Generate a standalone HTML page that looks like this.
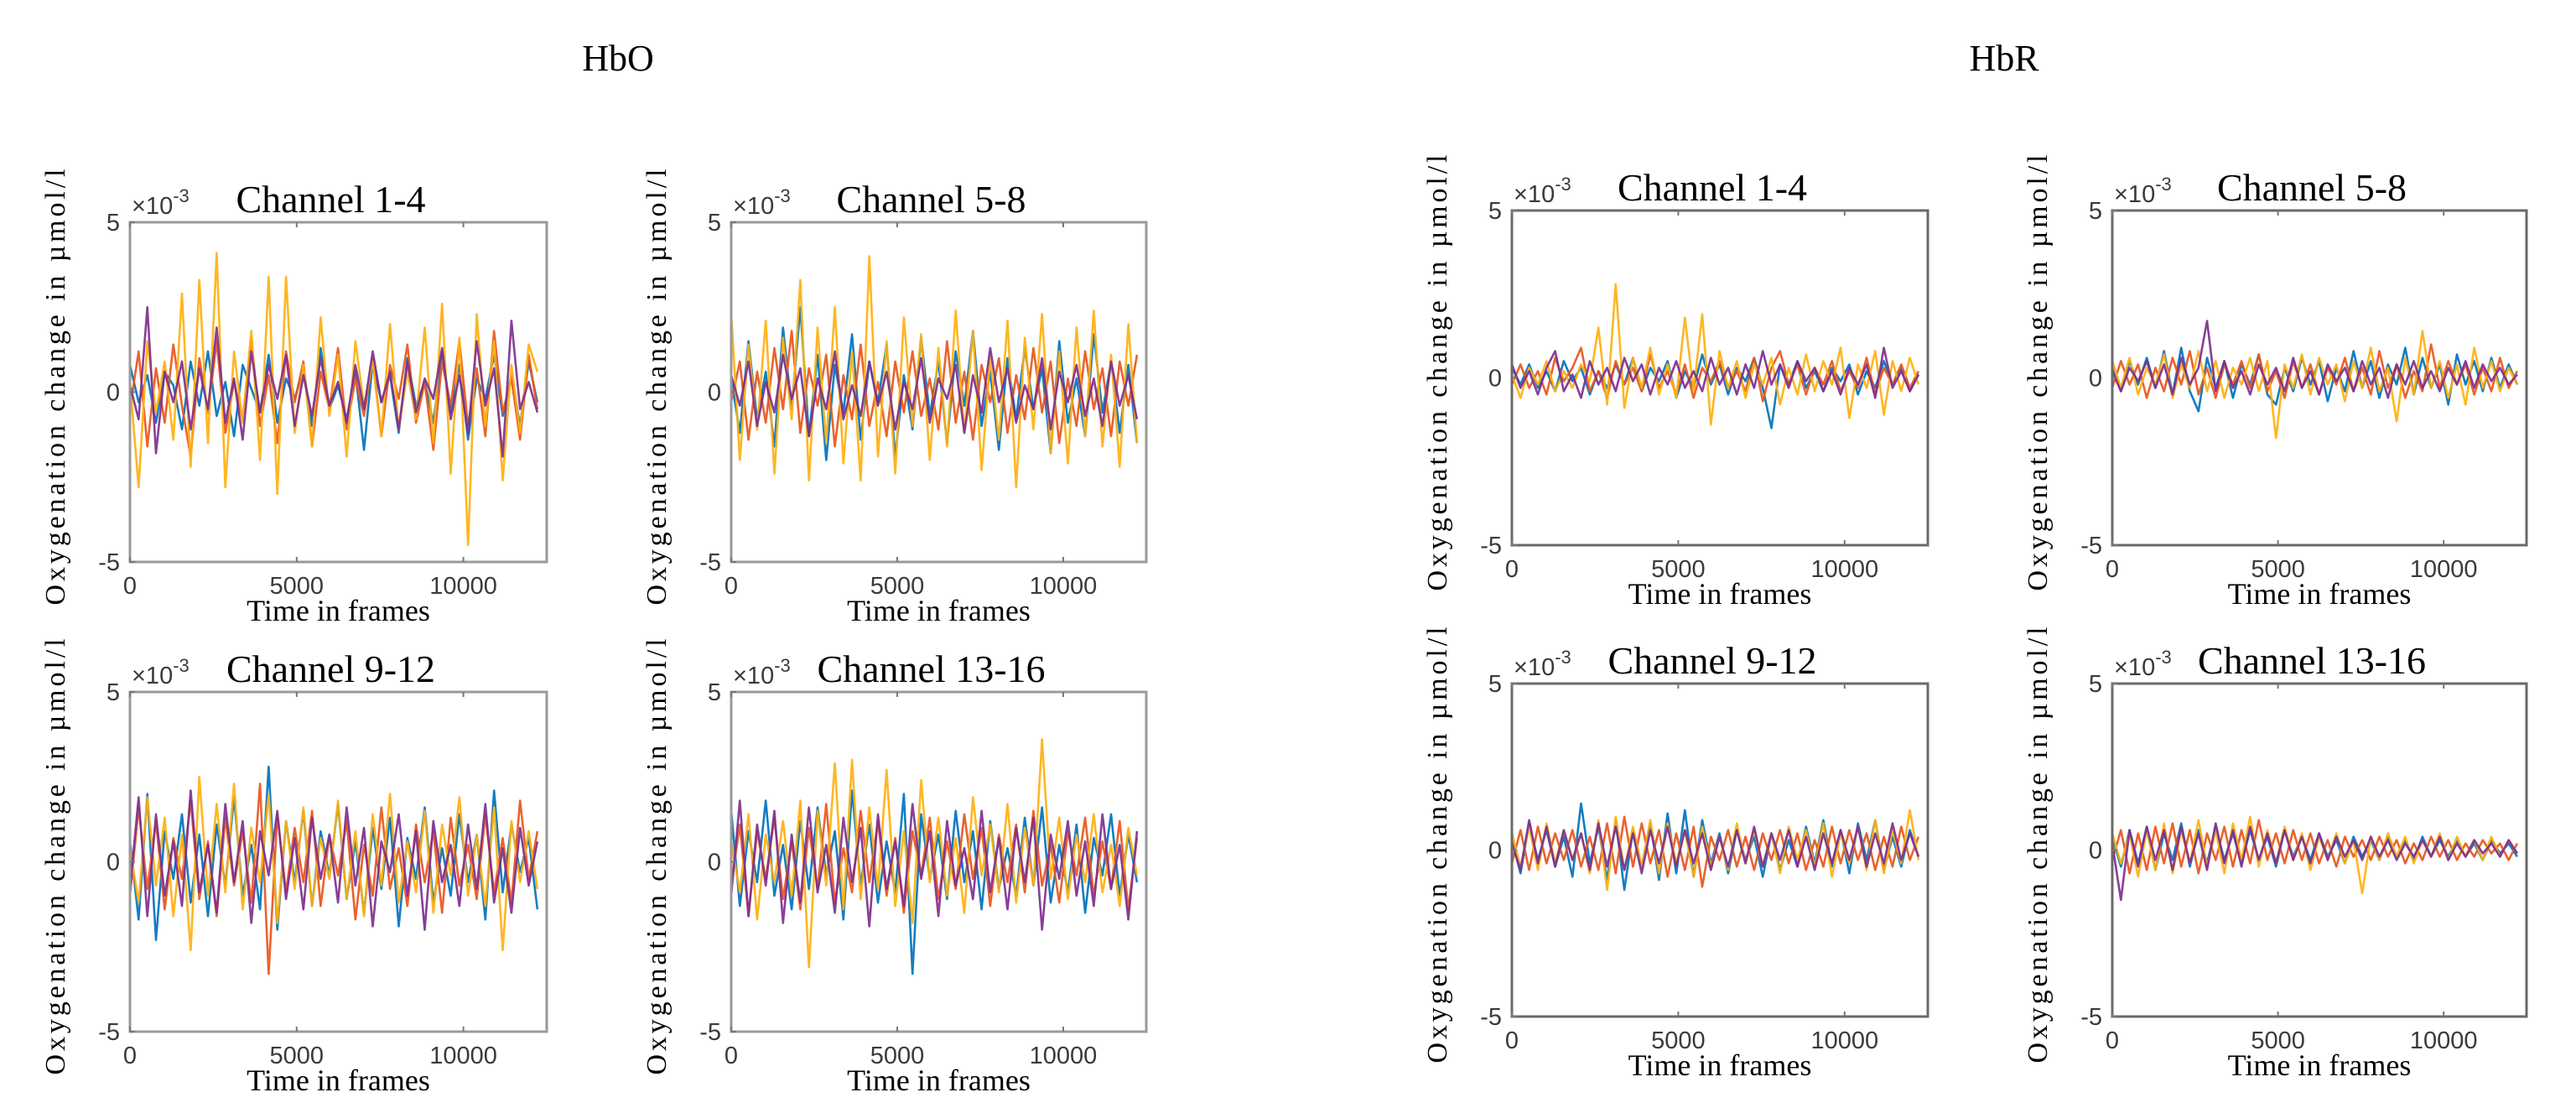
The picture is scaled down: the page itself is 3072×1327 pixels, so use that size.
<!DOCTYPE html>
<html><head><meta charset="utf-8">
<style>
html,body{margin:0;padding:0;background:#fff;}
svg{display:block;}
.serif{font-family:"Liberation Serif",serif;fill:#000;}
.sans{font-family:"Liberation Sans",sans-serif;fill:#3a3a3a;}
</style></head>
<body>
<svg id="fig" xmlns="http://www.w3.org/2000/svg" width="3072" height="1327" viewBox="0 0 3072 1327">
<rect x="0" y="0" width="3072" height="1327" fill="#fff"/>
<text class="serif" x="737" y="84" font-size="44" text-anchor="middle">HbO</text>
<text class="serif" x="2390" y="84" font-size="44" text-anchor="middle">HbR</text>
</svg>
<script>
// x categories (frames)
const frames = [0,260,520,780,1040,1300,1560,1820,2080,2340,2600,2860,3120,3380,3640,3900,4160,4420,4680,4940,5200,5460,5720,5980,6240,6500,6760,7020,7280,7540,7800,8060,8320,8580,8840,9100,9360,9620,9880,10140,10400,10660,10920,11180,11440,11700,11960,12220];
const xTicks = [0,5000,10000];
const yTicks = [5,0,-5];
const panelTitles = ["Channel 1-4","Channel 5-8","Channel 9-12","Channel 13-16","Channel 1-4","Channel 5-8","Channel 9-12","Channel 13-16"];

// HbO Channel 1-4 (values in 1e-3 µmol/l)
const hbo1Blue = [0.8,-0.3,0.5,-0.9,0.6,0.2,-1.1,0.9,-0.4,1.2,-0.7,0.3,-1.3,0.8,0.1,-0.6,1.1,-0.9,0.4,-0.2,0.7,-1.0,1.3,-0.5,0.2,-0.8,0.6,-1.7,0.9,-0.3,0.5,-1.2,1.0,-0.4,0.3,-0.9,1.2,-0.6,0.8,-1.4,0.4,-0.2,1.1,-0.7,0.5,-1.0,0.9,-0.3];
const hbo1Red = [-0.5,1.2,-1.6,0.7,-0.9,1.4,-0.4,-1.9,1.0,-0.6,1.5,-1.2,0.3,-0.8,1.6,-1.0,0.5,-1.5,1.2,-0.3,0.9,-1.6,0.6,-0.5,1.3,-1.1,0.4,-0.7,1.0,-1.3,0.8,-0.2,1.4,-0.9,0.3,-1.7,0.9,-0.4,1.5,-1.0,0.7,-1.3,1.8,-0.6,0.4,-1.4,1.1,-0.5];
const hbo1Yellow = [0.3,-2.8,1.5,-0.6,0.9,-1.4,2.9,-2.2,3.3,-1.5,4.1,-2.8,1.2,-0.9,1.8,-2.0,3.4,-3.0,3.4,-1.2,0.8,-1.6,2.2,-0.7,1.1,-1.9,1.5,-0.4,0.9,-1.3,2.0,-1.1,0.6,-0.8,1.9,-1.5,2.6,-2.4,1.6,-4.5,2.3,-1.0,1.5,-2.6,0.8,-1.2,1.4,0.6];
const hbo1Purple = [0.2,-0.8,2.5,-1.8,0.6,-0.3,0.9,-1.1,0.7,-0.5,1.9,-0.9,0.4,-1.4,1.2,-0.6,0.8,-0.2,1.1,-1.0,0.5,-0.7,1.0,-0.4,0.3,-0.9,0.8,-0.5,1.2,-0.3,0.6,-1.1,0.9,-0.6,0.4,-0.2,1.3,-0.8,0.5,-1.2,1.5,-0.4,0.7,-1.9,2.1,-0.5,0.3,-0.6];
// HbO Channel 5-8
const hbo2Blue = [0.4,-1.2,1.5,-0.8,0.6,-1.6,1.9,-0.5,2.5,-1.3,1.1,-2.0,0.8,-0.6,1.7,-1.4,0.9,-0.3,1.4,-1.9,0.5,-1.1,1.6,-0.7,0.9,-1.5,1.2,-0.4,1.8,-1.0,0.6,-1.7,1.0,-0.8,1.3,-0.5,0.7,-1.8,1.5,-0.9,0.4,-1.3,1.7,-0.6,0.9,-1.2,0.8,-1.5];
const hbo2Red = [-0.3,0.9,-1.4,0.6,-0.9,1.3,-0.5,1.8,-1.2,0.7,-0.4,1.1,-1.6,0.5,-0.8,1.4,-1.0,0.3,-1.3,0.9,-0.6,1.2,-0.7,0.4,-1.1,1.5,-0.9,0.6,-1.4,0.8,-0.3,1.0,-1.2,0.5,-0.8,1.3,-0.6,0.9,-1.5,0.4,-1.0,1.2,-0.5,0.7,-1.3,0.9,-0.4,1.1];
const hbo2Yellow = [2.3,-2.0,1.4,-1.1,2.1,-2.4,1.6,-0.8,3.3,-2.6,1.9,-1.5,2.5,-2.1,1.2,-2.6,4.0,-1.9,1.5,-2.4,2.2,-1.0,1.7,-2.0,1.3,-1.6,2.4,-1.2,1.8,-2.3,1.0,-1.4,2.1,-2.8,1.6,-1.1,2.3,-1.8,1.2,-2.1,1.9,-1.3,2.4,-1.6,1.1,-2.2,2.0,-1.5];
const hbo2Purple = [0.5,-0.4,0.9,-1.0,0.3,-0.6,1.1,-0.2,0.7,-1.3,0.4,-0.5,1.2,-0.8,0.2,-0.7,0.9,-0.4,0.6,-1.1,0.3,-0.5,1.0,-0.9,0.4,-0.2,0.8,-1.2,0.5,-0.6,1.3,-0.3,0.7,-0.9,0.2,-0.5,1.0,-1.1,0.6,-0.3,0.8,-0.7,0.4,-1.0,0.9,-0.4,0.5,-0.8];
// HbO Channel 9-12
const hbo3Blue = [0.6,-1.7,2.0,-2.3,0.9,-0.5,1.4,-1.2,0.8,-1.6,1.1,-0.7,1.9,-1.0,0.5,-1.4,2.8,-2.0,1.2,-0.6,1.5,-1.3,0.9,-0.4,1.7,-1.1,0.6,-1.5,1.0,-0.8,1.3,-1.9,0.7,-0.5,1.6,-1.2,0.4,-1.0,1.4,-0.6,0.8,-1.7,2.1,-0.9,1.1,-0.3,0.7,-1.4];
const hbo3Red = [-1.0,1.6,-0.8,1.2,-1.4,0.7,-0.5,1.8,-1.1,0.6,-1.6,1.3,-0.7,0.9,-1.2,2.3,-3.3,1.4,-0.9,1.0,-0.6,1.5,-1.3,0.8,-0.4,1.2,-1.7,0.5,-1.0,1.6,-0.8,0.4,-1.3,1.1,-0.6,0.9,-1.5,1.3,-0.7,0.5,-1.1,1.4,-0.9,0.7,-1.2,1.8,-0.5,0.9];
const hbo3Yellow = [0.4,-1.2,1.9,-0.7,1.3,-1.6,0.8,-2.6,2.5,-1.0,1.7,-0.9,2.3,-1.4,1.0,-0.6,2.0,-1.8,1.2,-0.8,1.6,-1.3,0.7,-0.5,1.8,-1.1,0.9,-1.6,1.4,-0.7,2.0,-1.2,0.6,-0.9,1.5,-1.5,1.1,-0.4,1.9,-1.0,0.8,-1.3,1.6,-2.6,1.2,-0.6,0.9,-0.8];
const hbo3Purple = [-0.8,1.9,-1.6,1.4,-1.0,0.6,-1.3,2.1,-0.9,0.5,-1.5,1.7,-0.6,1.2,-1.8,0.9,-0.4,1.5,-1.1,0.7,-1.4,1.3,-0.5,0.8,-1.2,1.6,-0.7,1.0,-1.9,0.6,-0.3,1.4,-1.0,0.9,-2.0,1.2,-0.6,0.5,-1.3,1.1,-0.8,1.7,-1.2,0.4,-1.5,1.0,-0.7,0.6];
// HbO Channel 13-16
const hbo4Blue = [1.5,-1.3,0.9,-0.6,1.8,-1.0,0.5,-1.4,1.2,-0.8,1.6,-0.4,0.9,-1.7,2.1,-0.7,1.1,-1.2,0.6,-0.9,2.0,-3.3,1.4,-0.5,0.8,-1.1,1.5,-0.6,0.9,-1.4,1.2,-0.8,0.4,-1.0,1.3,-0.7,1.6,-1.2,0.5,-0.9,1.1,-1.5,0.7,-0.4,1.4,-1.0,0.8,-0.6];
const hbo4Red = [-0.7,1.1,-1.6,0.9,-0.5,1.3,-1.1,0.6,-1.4,1.0,-0.8,1.7,-1.2,0.4,-0.9,1.5,-0.6,1.2,-1.0,0.7,-1.5,0.9,-0.4,1.3,-1.1,0.6,-0.8,1.4,-0.5,1.0,-1.3,0.8,-0.6,1.1,-0.9,1.5,-0.7,0.5,-1.2,0.9,-0.4,1.3,-1.0,0.6,-0.8,1.2,-1.4,0.7];
const hbo4Yellow = [0.6,-0.9,1.4,-1.7,0.8,-0.6,1.2,-1.0,1.8,-3.1,1.5,-0.7,2.9,-1.4,3.0,-1.1,1.6,-0.8,2.7,-1.3,0.9,-1.8,2.4,-0.6,1.3,-1.0,0.7,-1.5,1.9,-0.4,1.1,-0.9,1.7,-1.2,1.0,-0.7,3.6,-0.5,1.3,-1.1,0.8,-0.6,1.4,-0.9,0.5,-1.3,1.0,-0.4];
const hbo4Purple = [-1.0,1.8,-1.6,1.1,-0.7,1.5,-1.8,0.8,-1.2,1.6,-0.9,0.5,-1.5,1.3,-0.6,1.0,-1.9,1.4,-0.8,0.6,-1.3,1.7,-0.5,0.9,-1.6,1.2,-0.7,0.4,-1.1,1.5,-0.9,0.7,-1.4,1.0,-0.6,1.3,-2.0,0.8,-0.5,1.2,-1.0,0.6,-1.3,1.4,-0.8,0.5,-1.7,0.9];
// HbR Channel 1-4
const hbr1Blue = [0.3,-0.2,0.4,-0.3,0.2,-0.4,0.5,-0.1,0.3,-0.5,0.2,-0.3,0.4,-0.2,0.6,-0.4,0.3,-0.1,0.5,-0.6,0.2,-0.3,0.7,-0.2,0.4,-0.5,0.3,-0.1,0.6,-0.3,-1.5,0.4,-0.2,0.5,-0.3,0.2,-0.4,0.3,-0.1,0.4,-0.5,0.2,-0.3,0.5,-0.2,0.3,-0.4,0.1];
const hbr1Red = [-0.2,0.4,-0.3,0.2,-0.5,0.6,-0.1,0.3,0.9,-0.4,0.2,-0.6,0.5,-0.2,0.3,-0.4,0.7,-0.3,0.2,-0.5,0.4,-0.6,0.3,-0.1,0.5,-0.3,0.2,-0.4,0.6,-0.7,0.3,0.8,-0.2,0.4,-0.5,0.3,-0.2,0.5,-0.4,0.2,-0.3,0.6,-0.5,0.3,-0.2,0.4,-0.3,0.2];
const hbr1Yellow = [0.1,-0.6,0.3,-0.2,0.5,-0.4,0.2,-0.3,0.4,-0.1,1.5,-0.8,2.8,-0.9,0.6,-0.3,0.9,-0.5,0.4,-0.6,1.8,-0.4,1.9,-1.4,0.8,-0.3,0.5,-0.6,0.4,-0.2,0.6,-0.8,0.3,-0.5,0.7,-0.4,0.5,-0.2,0.9,-1.2,0.4,-0.3,0.8,-1.1,0.5,-0.4,0.6,-0.2];
const hbr1Purple = [0.4,-0.3,0.2,-0.5,0.3,0.8,-0.4,0.1,-0.6,0.5,-0.2,0.3,-0.4,0.6,-0.1,0.4,-0.5,0.3,-0.2,0.5,-0.3,0.2,-0.4,0.6,-0.2,0.3,-0.5,0.4,-0.3,0.8,-0.2,0.4,-0.3,0.5,-0.1,0.3,-0.4,0.2,-0.5,0.3,-0.2,0.4,-0.6,0.9,-0.3,0.2,-0.4,0.1];
// HbR Channel 5-8
const hbr2Blue = [0.3,-0.4,0.5,-0.2,0.6,-0.3,0.8,-0.5,0.9,-0.4,-1.0,0.6,-0.3,0.5,-0.6,0.4,-0.2,0.7,-0.5,-0.8,0.3,-0.4,0.6,-0.2,0.5,-0.7,0.3,-0.4,0.8,-0.3,0.5,-0.6,0.4,-0.2,0.9,-0.5,0.6,-0.3,0.4,-0.8,0.7,-0.2,0.5,-0.4,0.6,-0.3,0.4,-0.2];
const hbr2Red = [-0.3,0.5,-0.2,0.4,-0.6,0.3,-0.4,0.6,-0.2,0.8,-0.5,0.3,-0.6,0.4,-0.2,0.5,-0.3,0.7,-0.4,0.2,-0.6,0.5,-0.3,0.4,-0.5,0.3,-0.2,0.6,-0.4,0.3,-0.5,0.8,-0.3,0.4,-0.6,0.2,-0.4,1.0,-0.3,0.5,-0.2,0.4,-0.5,0.3,-0.4,0.6,-0.3,0.2];
const hbr2Yellow = [0.5,-0.3,0.6,-0.5,0.3,-0.2,0.7,-0.6,0.4,-0.3,0.8,-0.4,0.5,-0.6,0.3,-0.2,0.6,-0.4,0.5,-1.8,0.4,-0.3,0.7,-0.5,0.6,-0.2,0.4,-0.7,0.5,-0.3,0.9,-0.4,0.3,-1.3,0.6,-0.5,1.4,-0.3,0.5,-0.6,0.4,-0.8,0.9,-0.3,0.5,-0.4,0.3,-0.2];
const hbr2Purple = [0.2,-0.4,0.3,-0.1,0.5,-0.3,0.4,-0.5,0.6,-0.2,0.3,1.7,-0.4,0.5,-0.3,0.2,-0.5,0.4,-0.2,0.3,-0.4,0.6,-0.3,0.2,-0.5,0.4,-0.1,0.3,-0.4,0.5,-0.2,0.3,-0.6,0.4,-0.2,0.5,-0.3,0.2,-0.4,0.3,-0.2,0.5,-0.3,0.4,-0.1,0.3,-0.2,0.1];
// HbR Channel 9-12
const hbr3Blue = [0.3,-0.7,0.8,-0.3,0.6,-0.5,0.4,-0.8,1.4,-0.4,0.7,-0.9,0.9,-1.2,0.6,-0.5,0.8,-0.9,1.1,-0.7,1.2,-0.8,0.9,-0.4,0.5,-0.7,0.6,-0.3,0.4,-0.8,0.5,-0.6,0.3,-0.5,0.7,-0.4,0.9,-0.5,0.6,-0.7,0.8,-0.3,0.9,-0.6,0.4,-0.5,0.6,-0.2];
const hbr3Red = [-0.4,0.6,-0.6,0.7,-0.4,0.5,-0.3,0.6,-0.5,0.4,-0.6,0.8,-0.7,1.0,-0.5,0.8,-0.4,0.6,-0.8,0.5,-0.6,0.7,-1.1,0.4,-0.3,0.6,-0.5,0.4,-0.6,0.5,-0.3,0.6,-0.4,0.5,-0.6,0.3,-0.5,0.7,-0.4,0.6,-0.3,0.5,-0.6,0.4,-0.5,0.7,-0.3,0.4];
const hbr3Yellow = [0.5,-0.5,0.7,-0.6,0.8,-0.4,0.6,-0.3,0.5,-0.7,0.9,-1.2,1.0,-0.6,0.7,-0.5,0.9,-0.7,0.8,-0.4,0.6,-0.8,0.7,-0.5,0.4,-0.6,0.8,-0.4,0.6,-0.5,0.5,-0.7,0.7,-0.3,0.6,-0.5,0.8,-0.8,0.5,-0.4,0.7,-0.6,0.9,-0.7,0.6,-0.4,1.2,-0.3];
const hbr3Purple = [0.2,-0.6,0.9,-0.4,0.7,-0.5,0.6,-0.3,0.5,-0.6,0.8,-0.5,0.7,-0.6,0.5,-0.7,0.6,-0.4,0.7,-0.5,0.6,-0.4,0.5,-0.6,0.4,-0.5,0.6,-0.4,0.7,-0.5,0.5,-0.3,0.6,-0.5,0.4,-0.6,0.5,-0.4,0.6,-0.3,0.7,-0.5,0.5,-0.4,0.8,-0.3,0.5,-0.2];
// HbR Channel 13-16
const hbr4Blue = [0.4,-0.5,0.6,-0.4,0.7,-0.6,0.5,-0.3,0.8,-0.5,0.6,-0.4,0.7,-0.3,0.5,-0.4,0.6,-0.3,0.4,-0.5,0.6,-0.2,0.4,-0.3,0.5,-0.2,0.3,-0.4,0.4,-0.2,0.3,-0.3,0.4,-0.2,0.3,-0.3,0.4,-0.2,0.3,-0.2,0.3,-0.2,0.2,-0.3,0.3,-0.1,0.2,-0.2];
const hbr4Red = [-0.3,0.6,-0.7,0.5,-0.6,0.7,-0.4,0.8,-0.5,0.6,-0.7,0.5,-0.3,0.7,-0.5,0.6,-0.4,0.9,-0.3,0.5,-0.4,0.6,-0.3,0.5,-0.4,0.3,-0.5,0.4,-0.2,0.3,-0.3,0.4,-0.2,0.3,-0.4,0.2,-0.3,0.4,-0.2,0.3,-0.3,0.2,-0.2,0.3,-0.1,0.2,-0.3,0.2];
const hbr4Yellow = [0.5,-0.4,0.5,-0.8,0.6,-0.6,0.8,-0.7,0.6,-0.4,0.9,-0.5,0.6,-0.7,0.8,-0.3,1.0,-0.5,0.6,-0.4,0.7,-0.3,0.5,-0.6,0.4,-0.3,0.5,-0.4,0.3,-1.3,0.4,-0.3,0.5,-0.2,0.4,-0.4,0.3,-0.2,0.5,-0.3,0.4,-0.2,0.3,-0.3,0.4,-0.2,0.3,-0.1];
const hbr4Purple = [0.2,-1.5,0.6,-0.5,0.7,-0.3,0.6,-0.6,0.7,-0.4,0.5,-0.6,0.8,-0.4,0.6,-0.5,0.7,-0.3,0.5,-0.4,0.6,-0.3,0.4,-0.4,0.5,-0.3,0.4,-0.2,0.3,-0.3,0.4,-0.2,0.3,-0.3,0.2,-0.2,0.3,-0.2,0.4,-0.3,0.2,-0.2,0.3,-0.1,0.2,-0.2,0.3,-0.1];

const panelSeries = [
  [hbo1Blue,hbo1Red,hbo1Yellow,hbo1Purple],
  [hbo2Blue,hbo2Red,hbo2Yellow,hbo2Purple],
  [hbo3Blue,hbo3Red,hbo3Yellow,hbo3Purple],
  [hbo4Blue,hbo4Red,hbo4Yellow,hbo4Purple],
  [hbr1Blue,hbr1Red,hbr1Yellow,hbr1Purple],
  [hbr2Blue,hbr2Red,hbr2Yellow,hbr2Purple],
  [hbr3Blue,hbr3Red,hbr3Yellow,hbr3Purple],
  [hbr4Blue,hbr4Red,hbr4Yellow,hbr4Purple]
];
const seriesNames = ['blue','red','yellow','purple'];

// layout (not data)
const boxes = [
  {l:155,r:652,t:265,b:670},{l:872,r:1367,t:265,b:670},
  {l:155,r:652,t:825,b:1230},{l:872,r:1367,t:825,b:1230},
  {l:1803,r:2299,t:251,b:650},{l:2519,r:3013,t:251,b:650},
  {l:1803,r:2299,t:815,b:1212},{l:2519,r:3013,t:815,b:1212}
];
const colors = ['#0072BD','#E8561C','#FFB00F','#7E2F8E'];
const X_MAX = 12500, Y_MIN = -5, Y_MAX = 5;
const NS = 'http://www.w3.org/2000/svg';
const svg = document.getElementById('fig');

function mk(tag, attrs, parent){
  const e = document.createElementNS(NS, tag);
  for (const k in attrs) e.setAttribute(k, attrs[k]);
  (parent||svg).appendChild(e);
  return e;
}

boxes.forEach((bx, p) => {
  const xs = v => bx.l + (v / X_MAX) * (bx.r - bx.l);
  const ys = v => bx.b - (v - Y_MIN) / (Y_MAX - Y_MIN) * (bx.b - bx.t);
  const g = mk('g', {});
  
  

  panelSeries[p].forEach((vals, s) => {
    let d = '';
    vals.forEach((v, i) => { d += (i ? 'L' : 'M') + xs(frames[i]).toFixed(1) + ' ' + ys(v).toFixed(1); });
    const pl = mk('path', {d: d, fill: 'none', stroke: colors[s], 'stroke-width': 2.6, 'stroke-linejoin': 'round', opacity: 0.92}, g);
    
    
  });

  const fr = mk('rect', {x: bx.l, y: bx.t, width: bx.r - bx.l, height: bx.b - bx.t, fill: 'none', stroke: p < 4 ? '#9a9a9a' : '#6a6a6a', 'stroke-width': 3}, g);
  
  

  xTicks.forEach(t => {
    const x = xs(t);
    mk('line', {x1: x, x2: x, y1: bx.b, y2: bx.b - 6, stroke: '#777', 'stroke-width': 2}, g);
    mk('line', {x1: x, x2: x, y1: bx.t, y2: bx.t + 6, stroke: '#777', 'stroke-width': 2}, g);
    const tl = mk('text', {x: x, y: bx.b + 38, 'font-size': 29, 'text-anchor': 'middle', class: 'sans'}, g);
    tl.textContent = t;
    
    
  });
  yTicks.forEach(t => {
    const y = ys(t);
    mk('line', {x1: bx.l, x2: bx.l + 6, y1: y, y2: y, stroke: '#777', 'stroke-width': 2}, g);
    const tl = mk('text', {x: bx.l - 12, y: y + 10, 'font-size': 29, 'text-anchor': 'end', class: 'sans'}, g);
    tl.textContent = t;
    
    
  });
  const ex = mk('text', {x: bx.l + 2, y: bx.t - 10, 'font-size': 29, class: 'sans', fill: '#666'}, g);
  
  
  ex.textContent = '\u00d710';
  const sup = mk('tspan', {dy: -14, 'font-size': 22}, ex);
  sup.textContent = '-3';

  const ti = mk('text', {x: (bx.l + bx.r) / 2 - 9, y: bx.t - 12, 'font-size': 46, 'text-anchor': 'middle', class: 'serif'}, g);
  ti.textContent = panelTitles[p];
  
  

  const xl = mk('text', {x: (bx.l + bx.r) / 2, y: bx.b + 70, 'font-size': 36, 'text-anchor': 'middle', class: 'serif'}, g);
  xl.textContent = 'Time in frames';
  
  

  const cx = bx.l - 78, cy = (bx.t + bx.b) / 2 - 6;
  const yl = mk('text', {x: cx, y: cy, 'font-size': 34, 'text-anchor': 'middle', class: 'serif', transform: 'rotate(-90 ' + cx + ' ' + cy + ')', textLength: 520, lengthAdjust: 'spacing'}, g);
  yl.textContent = 'Oxygenation change in \u00b5mol/l';
  
  
});
</script>
</body></html>
